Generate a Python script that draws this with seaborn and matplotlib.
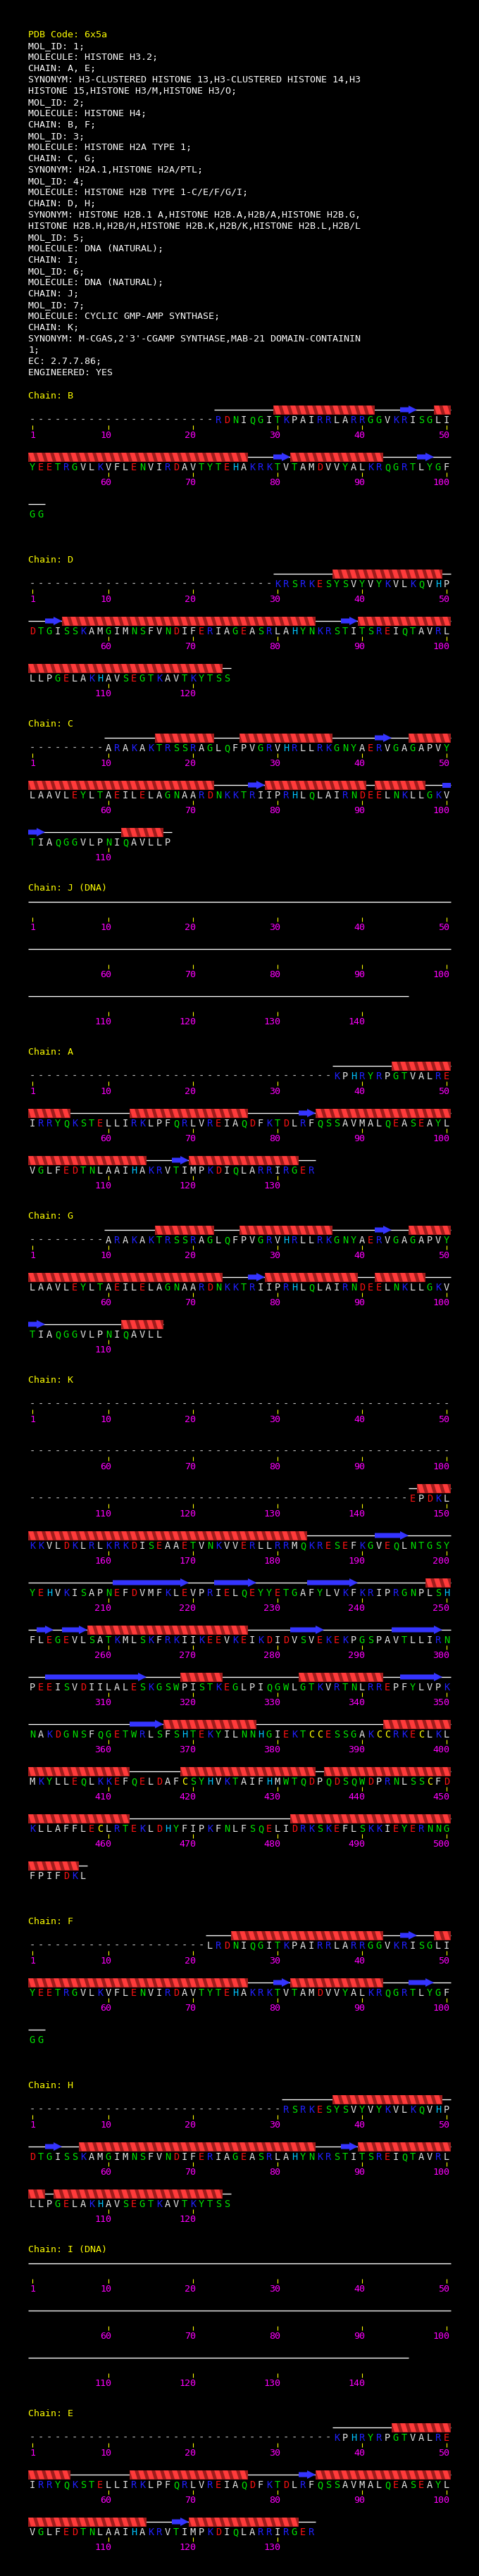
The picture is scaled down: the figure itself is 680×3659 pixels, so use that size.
import numpy as np
import pandas as pd
import seaborn as sns
import matplotlib.pyplot as plt
from matplotlib.patches import Polygon, Rectangle

# Black terminal-like page
sns.set_theme(style="dark", rc={"figure.facecolor": "black", "axes.facecolor": "black"})
plt.rcParams["font.family"] = ["DejaVu Sans Mono", "DejaVu Sans"]

W, H = 680, 3659
YELLOW = "#ffff00"
MAGENTA = "#ff00ff"
HELIX_LIGHT = "#ff3a3a"
HELIX_DARK = "#9e1c1c"
STRAND_BLUE = "#3434ff"

# Header text
pdb_code = "PDB Code: 6x5a"
header_lines = [
    "MOL_ID: 1;",
    "MOLECULE: HISTONE H3.2;",
    "CHAIN: A, E;",
    "SYNONYM: H3-CLUSTERED HISTONE 13,H3-CLUSTERED HISTONE 14,H3",
    "HISTONE 15,HISTONE H3/M,HISTONE H3/O;",
    "MOL_ID: 2;",
    "MOLECULE: HISTONE H4;",
    "CHAIN: B, F;",
    "MOL_ID: 3;",
    "MOLECULE: HISTONE H2A TYPE 1;",
    "CHAIN: C, G;",
    "SYNONYM: H2A.1,HISTONE H2A/PTL;",
    "MOL_ID: 4;",
    "MOLECULE: HISTONE H2B TYPE 1-C/E/F/G/I;",
    "CHAIN: D, H;",
    "SYNONYM: HISTONE H2B.1 A,HISTONE H2B.A,H2B/A,HISTONE H2B.G,",
    "HISTONE H2B.H,H2B/H,HISTONE H2B.K,H2B/K,HISTONE H2B.L,H2B/L",
    "MOL_ID: 5;",
    "MOLECULE: DNA (NATURAL);",
    "CHAIN: I;",
    "MOL_ID: 6;",
    "MOLECULE: DNA (NATURAL);",
    "CHAIN: J;",
    "MOL_ID: 7;",
    "MOLECULE: CYCLIC GMP-AMP SYNTHASE;",
    "CHAIN: K;",
    "SYNONYM: M-CGAS,2'3'-CGAMP SYNTHASE,MAB-21 DOMAIN-CONTAININ",
    "1;",
    "EC: 2.7.7.86;",
    "ENGINEERED: YES",
]

# Sequences as shown ('-' = not observed), helix / strand residue ranges
seq_H4_B = ("-" * 22 + "RDNIQGITKPAIRRLARRGGVKRISGLI"
            + "YEETRGVLKVFLENVIRDAVTYTEHAKRKTVTAMDVVYALKRQGRTLYGF" + "GG")
helix_B = [(30, 41), (49, 76), (82, 92)]
strand_B = [(45, 46), (80, 81), (97, 98)]

seq_H4_F = ("-" * 21 + "LRDNIQGITKPAIRRLARRGGVKRISGLI"
            + "YEETRGVLKVFLENVIRDAVTYTEHAKRKTVTAMDVVYALKRQGRTLYGF" + "GG")
helix_F = [(25, 42), (49, 76), (82, 92)]
strand_F = [(45, 46), (80, 81), (96, 98)]

seq_H2B_D = ("-" * 29 + "KRSRKESYSVYVYKVLKQVHP"
             + "DTGISSKAMGIMNSFVNDIFERIAGEASRLAHYNKRSTITSREIQTAVRL"
             + "LLPGELAKHAVSEGTKAVTKYTSS")
helix_D = [(37, 49), (55, 84), (90, 123)]
strand_D = [(53, 54), (88, 89)]

seq_H2B_H = ("-" * 30 + "RSRKESYSVYVYKVLKQVHP"
             + "DTGISSKAMGIMNSFVNDIFERIAGEASRLAHYNKRSTITSREIQTAVRL"
             + "LLPGELAKHAVSEGTKAVTKYTSS")
helix_H = [(37, 49), (57, 84), (90, 102), (104, 123)]
strand_H = [(53, 54), (88, 89)]

seq_H2A_C = ("-" * 9 + "ARAKAKTRSSRAGLQFPVGRVHRLLRKGNYAERVGAGAPVY"
             + "LAAVLEYLTAEILELAGNAARDNKKTRIIPRHLQLAIRNDEELNKLLGKV"
             + "TIAQGGVLPNIQAVLLP")
helix_C = [(16, 22), (26, 36), (46, 72), (79, 90), (92, 97), (112, 116)]
strand_C = [(42, 43), (77, 78), (100, 102)]

seq_H2A_G = ("-" * 9 + "ARAKAKTRSSRAGLQFPVGRVHRLLRKGNYAERVGAGAPVY"
             + "LAAVLEYLTAEILELAGNAARDNKKTRIIPRHLQLAIRNDEELNKLLGKV"
             + "TIAQGGVLPNIQAVLL")
helix_G = [(16, 22), (26, 36), (46, 73), (79, 89), (92, 97), (112, 116)]
strand_G = [(42, 43), (77, 78), (101, 102)]

seq_H3 = ("-" * 36 + "KPHRYRPGTVALRE"
          + "IRRYQKSTELLIRKLPFQRLVREIAQDFKTDLRFQSSAVMALQEASEAYL"
          + "VGLFEDTNLAAIHAKRVTIMPKDIQLARRIRGER")
helix_H3 = [(44, 55), (63, 76), (85, 114), (120, 132)]
strand_H3 = [(83, 84), (118, 119)]

seq_cGAS_K = ("-" * 145 + "EPDKL"
              + "KKVLDKLRLKRKDISEAAETVNKVVERLLRRMQKRESEFKGVEQLNTGSY"
              + "YEHVKISAPNEFDVMFKLEVPRIELQEYYETGAFYLVKFKRIPRGNPLSH"
              + "FLEGEVLSATKMLSKFRKIIKEEVKEIKDIDVSVEKEKPGSPAVTLLIRN"
              + "PEEISVDIILALESKGSWPISTKEGLPIQGWLGTKVRTNLRREPFYLVPK"
              + "NAKDGNSFQGETWRLSFSHTEKYILNNHGIEKTCCESSGAKCCRKECLKL"
              + "MKYLLEQLKKEFQELDAFCSYHVKTAIFHMWTQDPQDSQWDPRNLSSCFD"
              + "KLLAFFLECLRTEKLDHYFIPKFNLFSQELIDRKSKEFLSKKIEYERNNG"
              + "FPIFDKL")
helix_K = [(147, 183), (248, 250), (258, 276), (319, 323), (333, 342),
           (367, 377), (393, 412), (419, 434), (436, 462), (482, 506)]
strand_K = [(192, 195), (211, 219), (223, 227), (234, 239), (252, 253),
            (255, 257), (282, 285), (294, 299), (303, 314), (345, 349),
            (363, 366)]

dna_length = 145

chain_order = ["B", "D", "C", "J", "A", "G", "K", "F", "H", "I", "E"]
chain_seqs = {"B": seq_H4_B, "D": seq_H2B_D, "C": seq_H2A_C, "J": None,
              "A": seq_H3, "G": seq_H2A_G, "K": seq_cGAS_K, "F": seq_H4_F,
              "H": seq_H2B_H, "I": None, "E": seq_H3}
chain_helices = {"B": helix_B, "D": helix_D, "C": helix_C, "A": helix_H3,
                 "G": helix_G, "K": helix_K, "F": helix_F, "H": helix_H, "E": helix_H3}
chain_strands = {"B": strand_B, "D": strand_D, "C": strand_C, "A": strand_H3,
                 "G": strand_G, "K": strand_K, "F": strand_F, "H": strand_H, "E": strand_H3}

res_colors = {}
for aa in "KR":
    res_colors[aa] = "#2020ff"
for aa in "DE":
    res_colors[aa] = "#ff1212"
for aa in "NQSTGYW":
    res_colors[aa] = "#00e400"
res_colors["H"] = "#00c4ff"
res_colors["C"] = "#ffff00"

fig = plt.figure(figsize=(W / 100, H / 100), dpi=100)
ax = fig.add_axes([0, 0, 1, 1])
ax.set_facecolor("black")

FS = 9.6
SEQ_FS = 9.8
PER_ROW = 50


def col_x(k):
    # centre of column k (1..50)
    return 46 + (k - 1) * 12


def draw_helix(x0, x1, y):
    top, bot = y - 6.5, y + 6.5
    ax.add_patch(Rectangle((x0, top), x1 - x0, bot - top, facecolor=HELIX_DARK,
                           edgecolor="none", zorder=3))
    clip = Rectangle((x0, top), x1 - x0, bot - top, transform=ax.transData)
    for xs in np.arange(x0, x1, 12):
        p = Polygon([(xs, top), (xs + 7, top), (xs + 11, bot), (xs + 4, bot)],
                    closed=True, facecolor=HELIX_LIGHT, edgecolor="none", zorder=4)
        ax.add_patch(p)
        p.set_clip_path(clip)


def draw_strand(x0, x1, y, head):
    if head:
        xh = max(x0, x1 - 12)
        pts = [(x0, y - 3.5), (xh, y - 3.5), (xh, y - 6), (x1, y),
               (xh, y + 6), (xh, y + 3.5), (x0, y + 3.5)]
    else:
        pts = [(x0, y - 3.5), (x1, y - 3.5), (x1, y + 3.5), (x0, y + 3.5)]
    ax.add_patch(Polygon(pts, closed=True, facecolor=STRAND_BLUE, edgecolor="none", zorder=4))


# header
ax.text(40, 53, pdb_code, color=YELLOW, fontsize=FS, va="baseline")
for i, line in enumerate(header_lines, start=1):
    ax.text(40, 53 + 16 * i, line, color="white", fontsize=FS, va="baseline")

tick_rows = []
ss_top = 582
for name in chain_order:
    seq = chain_seqs[name]
    is_dna = seq is None
    n = dna_length if is_dna else len(seq)
    label = f"Chain: {name} (DNA)" if is_dna else f"Chain: {name}"
    ax.text(40, ss_top - 16.5, label, color=YELLOW, fontsize=FS, va="baseline")
    first_obs = 1 if is_dna else next(i for i, c in enumerate(seq, 1) if c != "-")
    nrows = int(np.ceil(n / PER_ROW))
    for r in range(nrows):
        y = ss_top + r * 67
        lo = r * PER_ROW + 1
        hi = min(n, lo + PER_ROW - 1)

        def edge_l(p):
            return col_x(p - lo + 1) - 6

        def edge_r(p):
            return col_x(p - lo + 1) + 6

        # coil line over observed residues
        a = max(lo, first_obs)
        if a <= hi:
            ax.plot([edge_l(a), edge_r(hi)], [y, y], color="white", lw=0.95,
                    solid_capstyle="butt", zorder=2)
        if not is_dna:
            for (h0, h1) in chain_helices[name]:
                s, e = max(h0, lo), min(h1, hi)
                if s <= e:
                    draw_helix(edge_l(s), edge_r(e), y)
            for (s0, s1) in chain_strands[name]:
                s, e = max(s0, lo), min(s1, hi)
                if s <= e:
                    draw_strand(edge_l(s), edge_r(e), y, head=(s1 <= hi))
            for p in range(lo, hi + 1):
                c = seq[p - 1]
                x = col_x(p - lo + 1)
                if c == "-":
                    ax.text(x, y + 19, "-", color="#c4c4c4", fontsize=SEQ_FS,
                            ha="center", va="baseline")
                else:
                    ax.text(x, y + 19, c, color=res_colors.get(c, "#e6e6e6"),
                            fontsize=SEQ_FS, ha="center", va="baseline")
        for p in range(lo, hi + 1):
            if p == 1 or p % 10 == 0:
                x = col_x(p - lo + 1)
                tick_rows.append((x, y + 24.5))
                ax.text(x + 4, y + 39.5, str(p), color=MAGENTA, fontsize=FS,
                        ha="right", va="baseline")
    ss_top += 99 + (nrows - 1) * 67 + 22 - 22

ticks = pd.DataFrame(tick_rows, columns=["x", "y"])
sns.scatterplot(data=ticks, x="x", y="y", marker="|", s=13, color=YELLOW,
                linewidth=0.8, ax=ax, legend=False, zorder=5)

ax.set_xlim(0, W)
ax.set_ylim(H, 0)
ax.axis("off")
fig.savefig("out.png", dpi=100, facecolor="black")
